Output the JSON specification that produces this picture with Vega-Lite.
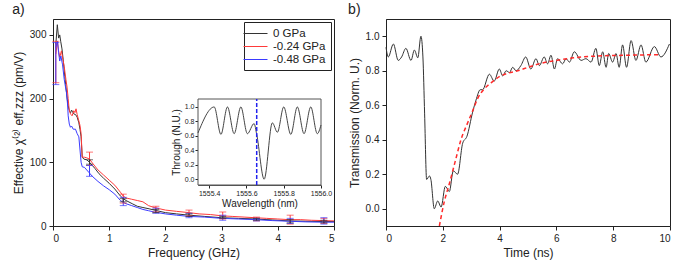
{
  "$schema": "https://vega.github.io/schema/vega-lite/v6.json",
  "background": "white",
  "padding": {"left": 11, "top": 2, "right": 2, "bottom": 2},
  "config": {
    "font": "Liberation Sans",
    "view": {"stroke": "#222", "strokeWidth": 1},
    "axis": {"grid": false, "domainColor": "#222", "tickColor": "#222", "labelColor": "#222", "titleColor": "#222", "labelFontSize": 10, "titleFontSize": 12, "titleFontWeight": "normal", "tickSize": 4, "labelPadding": 3, "labelOverlap": false},
    "title": {"fontSize": 14, "fontWeight": "normal", "color": "#222", "anchor": "start", "frame": "bounds"}
  },
  "datasets": {
    "chi": [
      {"p": "0 GPa", "f": 0.05, "v": 285}, {"p": "0 GPa", "f": 0.077, "v": 316}, {"p": "0 GPa", "f": 0.1, "v": 295}, {"p": "0 GPa", "f": 0.12, "v": 300}, {"p": "0 GPa", "f": 0.137, "v": 290}, {"p": "0 GPa", "f": 0.16, "v": 278}, {"p": "0 GPa", "f": 0.18, "v": 262}, {"p": "0 GPa", "f": 0.196, "v": 248}, {"p": "0 GPa", "f": 0.21, "v": 235}, {"p": "0 GPa", "f": 0.226, "v": 222}, {"p": "0 GPa", "f": 0.24, "v": 210}, {"p": "0 GPa", "f": 0.254, "v": 199}, {"p": "0 GPa", "f": 0.27, "v": 189}, {"p": "0 GPa", "f": 0.285, "v": 183}, {"p": "0 GPa", "f": 0.3, "v": 179}, {"p": "0 GPa", "f": 0.315, "v": 178}, {"p": "0 GPa", "f": 0.33, "v": 182}, {"p": "0 GPa", "f": 0.345, "v": 180}, {"p": "0 GPa", "f": 0.37, "v": 176}, {"p": "0 GPa", "f": 0.4, "v": 175}, {"p": "0 GPa", "f": 0.43, "v": 171}, {"p": "0 GPa", "f": 0.46, "v": 162}, {"p": "0 GPa", "f": 0.48, "v": 152}, {"p": "0 GPa", "f": 0.5, "v": 140}, {"p": "0 GPa", "f": 0.52, "v": 108}, {"p": "0 GPa", "f": 0.55, "v": 105}, {"p": "0 GPa", "f": 0.6, "v": 104}, {"p": "0 GPa", "f": 0.65, "v": 100}, {"p": "0 GPa", "f": 0.7, "v": 95}, {"p": "0 GPa", "f": 0.75, "v": 90}, {"p": "0 GPa", "f": 0.82, "v": 82}, {"p": "0 GPa", "f": 0.9, "v": 75}, {"p": "0 GPa", "f": 1.0, "v": 67}, {"p": "0 GPa", "f": 1.1, "v": 58}, {"p": "0 GPa", "f": 1.2, "v": 47}, {"p": "0 GPa", "f": 1.25, "v": 43}, {"p": "0 GPa", "f": 1.3, "v": 40}, {"p": "0 GPa", "f": 1.41, "v": 35}, {"p": "0 GPa", "f": 1.5, "v": 31}, {"p": "0 GPa", "f": 1.6, "v": 29}, {"p": "0 GPa", "f": 1.71, "v": 27}, {"p": "0 GPa", "f": 1.85, "v": 24}, {"p": "0 GPa", "f": 2.0, "v": 21}, {"p": "0 GPa", "f": 2.2, "v": 19}, {"p": "0 GPa", "f": 2.42, "v": 17}, {"p": "0 GPa", "f": 2.7, "v": 15}, {"p": "0 GPa", "f": 3.0, "v": 13}, {"p": "0 GPa", "f": 3.3, "v": 12}, {"p": "0 GPa", "f": 3.6, "v": 11}, {"p": "0 GPa", "f": 3.9, "v": 9.5}, {"p": "0 GPa", "f": 4.2, "v": 8}, {"p": "0 GPa", "f": 4.5, "v": 7.5}, {"p": "0 GPa", "f": 4.8, "v": 7}, {"p": "0 GPa", "f": 5.0, "v": 7},
      {"p": "-0.24 GPa", "f": 0.05, "v": 270}, {"p": "-0.24 GPa", "f": 0.08, "v": 290}, {"p": "-0.24 GPa", "f": 0.1, "v": 275}, {"p": "-0.24 GPa", "f": 0.12, "v": 265}, {"p": "-0.24 GPa", "f": 0.15, "v": 275}, {"p": "-0.24 GPa", "f": 0.18, "v": 260}, {"p": "-0.24 GPa", "f": 0.2, "v": 250}, {"p": "-0.24 GPa", "f": 0.23, "v": 230}, {"p": "-0.24 GPa", "f": 0.25, "v": 218}, {"p": "-0.24 GPa", "f": 0.27, "v": 200}, {"p": "-0.24 GPa", "f": 0.285, "v": 185}, {"p": "-0.24 GPa", "f": 0.3, "v": 178}, {"p": "-0.24 GPa", "f": 0.32, "v": 175}, {"p": "-0.24 GPa", "f": 0.34, "v": 173}, {"p": "-0.24 GPa", "f": 0.37, "v": 181}, {"p": "-0.24 GPa", "f": 0.39, "v": 178}, {"p": "-0.24 GPa", "f": 0.41, "v": 184}, {"p": "-0.24 GPa", "f": 0.43, "v": 175}, {"p": "-0.24 GPa", "f": 0.46, "v": 165}, {"p": "-0.24 GPa", "f": 0.48, "v": 158}, {"p": "-0.24 GPa", "f": 0.5, "v": 145}, {"p": "-0.24 GPa", "f": 0.52, "v": 108}, {"p": "-0.24 GPa", "f": 0.56, "v": 108}, {"p": "-0.24 GPa", "f": 0.6, "v": 107}, {"p": "-0.24 GPa", "f": 0.65, "v": 105}, {"p": "-0.24 GPa", "f": 0.7, "v": 99}, {"p": "-0.24 GPa", "f": 0.8, "v": 88}, {"p": "-0.24 GPa", "f": 0.9, "v": 80}, {"p": "-0.24 GPa", "f": 1.0, "v": 72}, {"p": "-0.24 GPa", "f": 1.1, "v": 64}, {"p": "-0.24 GPa", "f": 1.2, "v": 53}, {"p": "-0.24 GPa", "f": 1.25, "v": 47}, {"p": "-0.24 GPa", "f": 1.3, "v": 44}, {"p": "-0.24 GPa", "f": 1.4, "v": 42}, {"p": "-0.24 GPa", "f": 1.5, "v": 40}, {"p": "-0.24 GPa", "f": 1.6, "v": 38}, {"p": "-0.24 GPa", "f": 1.7, "v": 32}, {"p": "-0.24 GPa", "f": 1.8, "v": 29}, {"p": "-0.24 GPa", "f": 1.9, "v": 27}, {"p": "-0.24 GPa", "f": 2.0, "v": 25}, {"p": "-0.24 GPa", "f": 2.2, "v": 23}, {"p": "-0.24 GPa", "f": 2.42, "v": 21}, {"p": "-0.24 GPa", "f": 2.6, "v": 19}, {"p": "-0.24 GPa", "f": 2.8, "v": 18}, {"p": "-0.24 GPa", "f": 3.0, "v": 16}, {"p": "-0.24 GPa", "f": 3.2, "v": 15}, {"p": "-0.24 GPa", "f": 3.4, "v": 14}, {"p": "-0.24 GPa", "f": 3.6, "v": 13}, {"p": "-0.24 GPa", "f": 3.8, "v": 12}, {"p": "-0.24 GPa", "f": 4.0, "v": 11}, {"p": "-0.24 GPa", "f": 4.2, "v": 10}, {"p": "-0.24 GPa", "f": 4.4, "v": 10}, {"p": "-0.24 GPa", "f": 4.6, "v": 9}, {"p": "-0.24 GPa", "f": 4.8, "v": 8.5}, {"p": "-0.24 GPa", "f": 5.0, "v": 8},
      {"p": "-0.48 GPa", "f": 0.05, "v": 280}, {"p": "-0.48 GPa", "f": 0.08, "v": 290}, {"p": "-0.48 GPa", "f": 0.1, "v": 272}, {"p": "-0.48 GPa", "f": 0.12, "v": 259}, {"p": "-0.48 GPa", "f": 0.14, "v": 267}, {"p": "-0.48 GPa", "f": 0.17, "v": 253}, {"p": "-0.48 GPa", "f": 0.2, "v": 230}, {"p": "-0.48 GPa", "f": 0.24, "v": 209}, {"p": "-0.48 GPa", "f": 0.26, "v": 190}, {"p": "-0.48 GPa", "f": 0.27, "v": 173}, {"p": "-0.48 GPa", "f": 0.29, "v": 160}, {"p": "-0.48 GPa", "f": 0.31, "v": 155}, {"p": "-0.48 GPa", "f": 0.33, "v": 157}, {"p": "-0.48 GPa", "f": 0.36, "v": 152}, {"p": "-0.48 GPa", "f": 0.4, "v": 152}, {"p": "-0.48 GPa", "f": 0.43, "v": 145}, {"p": "-0.48 GPa", "f": 0.46, "v": 140}, {"p": "-0.48 GPa", "f": 0.5, "v": 100}, {"p": "-0.48 GPa", "f": 0.52, "v": 93}, {"p": "-0.48 GPa", "f": 0.56, "v": 92}, {"p": "-0.48 GPa", "f": 0.6, "v": 88}, {"p": "-0.48 GPa", "f": 0.64, "v": 84}, {"p": "-0.48 GPa", "f": 0.7, "v": 78}, {"p": "-0.48 GPa", "f": 0.8, "v": 70}, {"p": "-0.48 GPa", "f": 0.9, "v": 63}, {"p": "-0.48 GPa", "f": 1.0, "v": 57}, {"p": "-0.48 GPa", "f": 1.1, "v": 50}, {"p": "-0.48 GPa", "f": 1.2, "v": 40}, {"p": "-0.48 GPa", "f": 1.25, "v": 37}, {"p": "-0.48 GPa", "f": 1.3, "v": 35}, {"p": "-0.48 GPa", "f": 1.4, "v": 32}, {"p": "-0.48 GPa", "f": 1.5, "v": 29}, {"p": "-0.48 GPa", "f": 1.6, "v": 26}, {"p": "-0.48 GPa", "f": 1.7, "v": 24}, {"p": "-0.48 GPa", "f": 1.8, "v": 22}, {"p": "-0.48 GPa", "f": 2.0, "v": 19}, {"p": "-0.48 GPa", "f": 2.2, "v": 17}, {"p": "-0.48 GPa", "f": 2.42, "v": 15}, {"p": "-0.48 GPa", "f": 2.7, "v": 14}, {"p": "-0.48 GPa", "f": 3.0, "v": 12}, {"p": "-0.48 GPa", "f": 3.3, "v": 11}, {"p": "-0.48 GPa", "f": 3.6, "v": 10}, {"p": "-0.48 GPa", "f": 3.9, "v": 8.5}, {"p": "-0.48 GPa", "f": 4.2, "v": 7.5}, {"p": "-0.48 GPa", "f": 4.5, "v": 6.5}, {"p": "-0.48 GPa", "f": 4.8, "v": 6}, {"p": "-0.48 GPa", "f": 5.0, "v": 6}
    ],
    "err": [
      {"p": "-0.24 GPa", "f": 0.05, "lo": 225, "hi": 290}, {"p": "-0.24 GPa", "f": 0.65, "lo": 95, "hi": 116}, {"p": "-0.24 GPa", "f": 1.25, "lo": 36, "hi": 50}, {"p": "-0.24 GPa", "f": 1.83, "lo": 22, "hi": 31}, {"p": "-0.24 GPa", "f": 2.42, "lo": 16, "hi": 25}, {"p": "-0.24 GPa", "f": 3.02, "lo": 11, "hi": 22}, {"p": "-0.24 GPa", "f": 3.62, "lo": 8, "hi": 14}, {"p": "-0.24 GPa", "f": 4.22, "lo": 3, "hi": 17}, {"p": "-0.24 GPa", "f": 4.82, "lo": 4, "hi": 12},
      {"p": "-0.48 GPa", "f": 0.05, "lo": 222, "hi": 288}, {"p": "-0.48 GPa", "f": 0.65, "lo": 78, "hi": 95}, {"p": "-0.48 GPa", "f": 1.25, "lo": 32, "hi": 45}, {"p": "-0.48 GPa", "f": 1.83, "lo": 20, "hi": 28}, {"p": "-0.48 GPa", "f": 2.42, "lo": 13, "hi": 20}, {"p": "-0.48 GPa", "f": 3.02, "lo": 9, "hi": 17}, {"p": "-0.48 GPa", "f": 3.62, "lo": 8, "hi": 12}, {"p": "-0.48 GPa", "f": 4.22, "lo": 4, "hi": 12}, {"p": "-0.48 GPa", "f": 4.82, "lo": 3, "hi": 13},
      {"p": "0 GPa", "f": 0.65, "lo": 97, "hi": 104}, {"p": "0 GPa", "f": 1.25, "lo": 38, "hi": 43}, {"p": "0 GPa", "f": 1.83, "lo": 21, "hi": 26}, {"p": "0 GPa", "f": 2.42, "lo": 15, "hi": 19}, {"p": "0 GPa", "f": 3.02, "lo": 12, "hi": 15}, {"p": "0 GPa", "f": 3.62, "lo": 9, "hi": 12}, {"p": "0 GPa", "f": 4.22, "lo": 5, "hi": 10}, {"p": "0 GPa", "f": 4.82, "lo": 5, "hi": 9}
    ],
    "inset": [
      {"w": 1555.34, "t": 0.64}, {"w": 1555.427, "t": 1.0}, {"w": 1555.463, "t": 0.62}, {"w": 1555.498, "t": 1.0}, {"w": 1555.534, "t": 0.63}, {"w": 1555.57, "t": 1.0}, {"w": 1555.605, "t": 0.63}, {"w": 1555.641, "t": 0.77}, {"w": 1555.655, "t": 0.62}, {"w": 1555.695, "t": 0.0}, {"w": 1555.739, "t": 0.78}, {"w": 1555.766, "t": 0.65}, {"w": 1555.8, "t": 1.0}, {"w": 1555.838, "t": 0.62}, {"w": 1555.873, "t": 1.0}, {"w": 1555.909, "t": 0.63}, {"w": 1555.945, "t": 1.0}, {"w": 1555.98, "t": 0.63}, {"w": 1556.0, "t": 0.75}
    ],
    "trans": [
      {"t": 0.0, "v": 0.936}, {"t": 0.08, "v": 0.88}, {"t": 0.26, "v": 0.955}, {"t": 0.43, "v": 0.86}, {"t": 0.55, "v": 0.88}, {"t": 0.7, "v": 0.93}, {"t": 0.88, "v": 0.86}, {"t": 1.0, "v": 0.92}, {"t": 1.12, "v": 0.875}, {"t": 1.23, "v": 1.0}, {"t": 1.3, "v": 0.88}, {"t": 1.36, "v": 0.55}, {"t": 1.43, "v": 0.17}, {"t": 1.53, "v": 0.19}, {"t": 1.58, "v": 0.17}, {"t": 1.7, "v": 0.0}, {"t": 1.82, "v": 0.045}, {"t": 1.94, "v": 0.01}, {"t": 2.09, "v": 0.13}, {"t": 2.23, "v": 0.1}, {"t": 2.37, "v": 0.22}, {"t": 2.52, "v": 0.2}, {"t": 2.7, "v": 0.38}, {"t": 2.85, "v": 0.42}, {"t": 3.05, "v": 0.56}, {"t": 3.17, "v": 0.63}, {"t": 3.32, "v": 0.69}, {"t": 3.4, "v": 0.69}, {"t": 3.64, "v": 0.78}, {"t": 3.81, "v": 0.74}, {"t": 3.99, "v": 0.81}, {"t": 4.11, "v": 0.77}, {"t": 4.23, "v": 0.8}, {"t": 4.35, "v": 0.79}, {"t": 4.46, "v": 0.82}, {"t": 4.58, "v": 0.8}, {"t": 4.75, "v": 0.83}, {"t": 4.92, "v": 0.88}, {"t": 5.1, "v": 0.81}, {"t": 5.28, "v": 0.87}, {"t": 5.4, "v": 0.83}, {"t": 5.57, "v": 0.88}, {"t": 5.69, "v": 0.84}, {"t": 5.81, "v": 0.89}, {"t": 5.93, "v": 0.81}, {"t": 6.04, "v": 0.87}, {"t": 6.22, "v": 0.84}, {"t": 6.34, "v": 0.87}, {"t": 6.46, "v": 0.85}, {"t": 6.63, "v": 0.91}, {"t": 6.87, "v": 0.86}, {"t": 7.04, "v": 0.87}, {"t": 7.22, "v": 0.85}, {"t": 7.39, "v": 0.93}, {"t": 7.51, "v": 0.83}, {"t": 7.63, "v": 0.91}, {"t": 7.75, "v": 0.82}, {"t": 7.84, "v": 0.9}, {"t": 7.98, "v": 0.85}, {"t": 8.1, "v": 0.9}, {"t": 8.21, "v": 0.82}, {"t": 8.33, "v": 0.95}, {"t": 8.47, "v": 0.82}, {"t": 8.63, "v": 0.975}, {"t": 8.8, "v": 0.86}, {"t": 8.98, "v": 0.95}, {"t": 9.15, "v": 0.85}, {"t": 9.45, "v": 0.94}, {"t": 9.68, "v": 0.88}, {"t": 9.98, "v": 0.955}
    ],
    "fit": [
      {"t": 1.88, "v": -0.1}, {"t": 2.05, "v": 0.04}, {"t": 2.23, "v": 0.145}, {"t": 2.43, "v": 0.27}, {"t": 2.64, "v": 0.4}, {"t": 2.88, "v": 0.5}, {"t": 3.05, "v": 0.567}, {"t": 3.23, "v": 0.64}, {"t": 3.46, "v": 0.695}, {"t": 3.7, "v": 0.73}, {"t": 3.99, "v": 0.766}, {"t": 4.28, "v": 0.785}, {"t": 4.64, "v": 0.8}, {"t": 5.0, "v": 0.82}, {"t": 5.5, "v": 0.845}, {"t": 6.0, "v": 0.86}, {"t": 6.6, "v": 0.875}, {"t": 7.4, "v": 0.885}, {"t": 8.5, "v": 0.89}, {"t": 9.6, "v": 0.893}
    ]
  },
  "spacing": 10,
  "resolve": {"scale": {"color": "independent"}, "legend": {"color": "independent"}},
  "hconcat": [
    {
      "title": {"text": "a)", "offset": 2},
      "width": 281,
      "height": 207,
      "resolve": {"scale": {"x": "independent", "y": "independent"}},
      "layer": [
        {
          "layer": [
            {
              "data": {"name": "chi"},
              "mark": {"type": "line", "strokeWidth": 1},
              "encoding": {
                "x": {"field": "f", "type": "quantitative", "scale": {"domain": [0, 5], "nice": false}, "axis": {"title": "Frequency (GHz)", "values": [0, 0.5, 1, 1.5, 2, 2.5, 3, 3.5, 4, 4.5, 5], "labelExpr": "datum.value % 1 === 0 ? format(datum.value, 'd') : ''"}},
                "y": {"field": "v", "type": "quantitative", "scale": {"domain": [0, 325], "nice": false}, "axis": {"title": "Effective χ⁽²⁾ eff,zzz (pm/V)", "values": [0, 25, 50, 75, 100, 125, 150, 175, 200, 225, 250, 275, 300], "labelExpr": "datum.value % 50 === 0 ? format(datum.value, 'd') : ''"}},
                "color": {"field": "p", "type": "nominal", "scale": {"domain": ["0 GPa", "-0.24 GPa", "-0.48 GPa"], "range": ["#333333", "#ff3a3a", "#3a3aff"]}, "legend": {"title": null, "orient": "top-right", "offset": 3, "strokeColor": "#222", "fillColor": "white", "padding": 5, "symbolType": "M-3.7,0M-2,0H2", "symbolSize": 144, "symbolOffset": 0, "symbolStrokeWidth": 1, "labelFontSize": 11.5, "labelColor": "#222", "rowPadding": 1, "labelOffset": 11, "encode": {"symbols": {"update": {"stroke": {"signal": "datum.value === '-0.48 GPa' ? '#3a3aff' : (datum.value === '-0.24 GPa' ? '#ff3a3a' : '#333333')"}}}}}}
              }
            },
            {
              "data": {"name": "err"},
              "mark": {"type": "rule", "strokeWidth": 1},
              "encoding": {
                "x": {"field": "f", "type": "quantitative", "title": "Frequency (GHz)"},
                "y": {"field": "lo", "type": "quantitative", "title": "Effective χ⁽²⁾ eff,zzz (pm/V)"},
                "y2": {"field": "hi"},
                "color": {"field": "p", "type": "nominal"}
              }
            },
            {
              "data": {"name": "err"},
              "mark": {"type": "tick", "orient": "horizontal", "size": 7, "thickness": 1},
              "encoding": {
                "x": {"field": "f", "type": "quantitative", "title": "Frequency (GHz)"},
                "y": {"field": "lo", "type": "quantitative", "title": "Effective χ⁽²⁾ eff,zzz (pm/V)"},
                "color": {"field": "p", "type": "nominal"}
              }
            },
            {
              "data": {"name": "err"},
              "mark": {"type": "tick", "orient": "horizontal", "size": 7, "thickness": 1},
              "encoding": {
                "x": {"field": "f", "type": "quantitative", "title": "Frequency (GHz)"},
                "y": {"field": "hi", "type": "quantitative", "title": "Effective χ⁽²⁾ eff,zzz (pm/V)"},
                "color": {"field": "p", "type": "nominal"}
              }
            }
          ]
        },
        {
          "layer": [
            {
              "data": {"values": [{"x1": 1555.34, "x2": 1556.0, "y1": -0.08, "y2": 1.11}]},
              "mark": {"type": "rect", "fill": "white", "stroke": "#555", "strokeWidth": 1},
              "encoding": {
                "x": {"field": "x1", "type": "quantitative", "scale": {"domain": [1555.34, 1556.0], "range": [145, 268], "nice": false, "zero": false}, "axis": {"orient": "bottom", "offset": -41, "title": "Wavelength (nm)", "values": [1555.4, 1555.6, 1555.8, 1556.0], "format": ".1f", "labelFontSize": 7, "titleFontSize": 10, "tickSize": 3, "labelPadding": 1, "titlePadding": 2, "domainColor": "#555", "labelFlush": false}},
                "x2": {"field": "x2"},
                "y": {"field": "y1", "type": "quantitative", "scale": {"domain": [-0.08, 1.11], "range": [166, 80], "nice": false, "zero": false}, "axis": {"orient": "left", "offset": -145, "title": "Through (N.U.)", "values": [0, 0.2, 0.4, 0.6, 0.8, 1.0], "format": ".1f", "labelFontSize": 7, "titleFontSize": 10, "tickSize": 3, "labelPadding": 1, "titlePadding": 3, "domainColor": "#555"}},
                "y2": {"field": "y2"}
              }
            },
            {
              "data": {"name": "inset"},
              "mark": {"type": "line", "interpolate": "monotone", "color": "#444", "strokeWidth": 1},
              "encoding": {
                "x": {"field": "w", "type": "quantitative", "title": "Wavelength (nm)"},
                "y": {"field": "t", "type": "quantitative", "title": "Through (N.U.)"}
              }
            },
            {
              "data": {"values": [{"w": 1555.655, "lo": -0.08, "hi": 1.11}]},
              "mark": {"type": "rule", "color": "#2222ee", "strokeDash": [4, 2], "strokeWidth": 1.5},
              "encoding": {
                "x": {"field": "w", "type": "quantitative", "title": "Wavelength (nm)"},
                "y": {"field": "lo", "type": "quantitative", "title": "Through (N.U.)"},
                "y2": {"field": "hi"}
              }
            }
          ]
        }
      ]
    },
    {
      "title": {"text": "b)", "offset": 2},
      "width": 284,
      "height": 207,
      "layer": [
        {
          "data": {"name": "trans"},
          "mark": {"type": "line", "interpolate": "monotone", "color": "#333", "strokeWidth": 1},
          "encoding": {
            "x": {"field": "t", "type": "quantitative", "scale": {"domain": [0, 10], "nice": false}, "axis": {"title": "Time (ns)", "values": [0, 1, 2, 3, 4, 5, 6, 7, 8, 9, 10], "labelExpr": "datum.value % 2 === 0 ? format(datum.value, 'd') : ''"}},
            "y": {"field": "v", "type": "quantitative", "scale": {"domain": [-0.1, 1.1], "nice": false, "zero": false}, "axis": {"title": "Transmission (Norm. U.)", "values": [0, 0.2, 0.4, 0.6, 0.8, 1.0], "format": ".1f"}}
          }
        },
        {
          "data": {"name": "fit"},
          "mark": {"type": "line", "interpolate": "monotone", "color": "#ff2a2a", "strokeDash": [4, 3], "strokeWidth": 1.5, "clip": true},
          "encoding": {
            "x": {"field": "t", "type": "quantitative", "title": "Time (ns)"},
            "y": {"field": "v", "type": "quantitative", "title": "Transmission (Norm. U.)"}
          }
        }
      ]
    }
  ]
}
